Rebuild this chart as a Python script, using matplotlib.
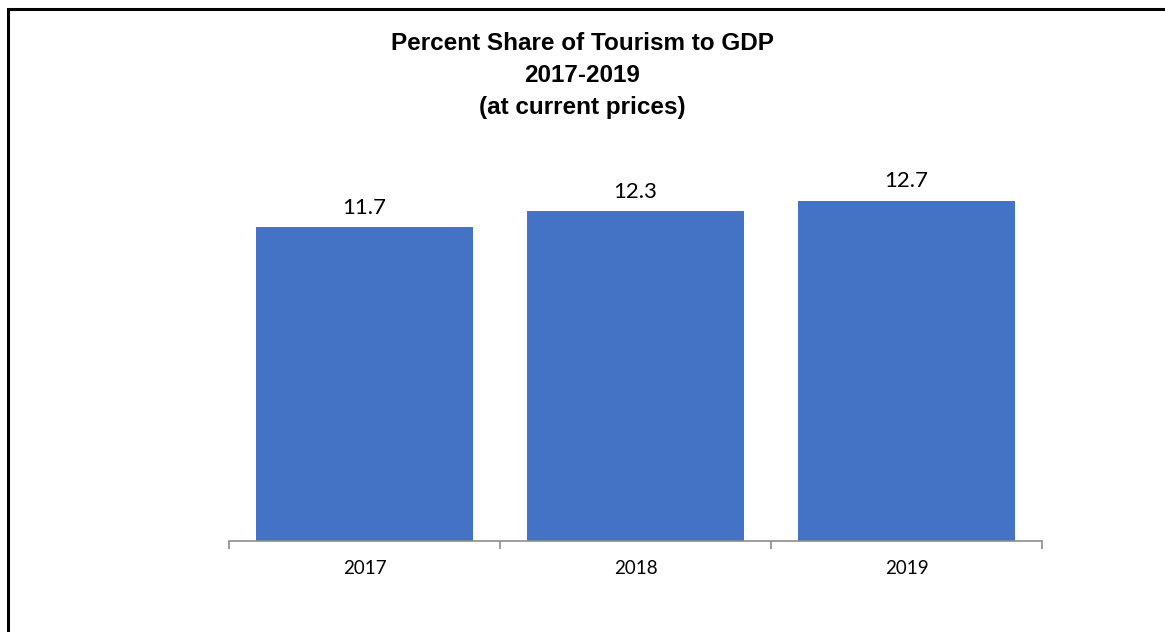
import matplotlib.pyplot as plt
from matplotlib.patches import Rectangle

years = ["2017", "2018", "2019"]
shares = [11.7, 12.3, 12.7]

fig = plt.figure(figsize=(11.65, 6.32), dpi=100)
ax = fig.add_axes([0.1966, 0.144, 0.6978, 0.5959])

x = list(range(len(years)))
bars = ax.bar(x, shares, width=0.8, color="#4472C4")
for b, v in zip(bars, shares):
    ax.annotate(f"{v}", (b.get_x() + b.get_width() / 2, v),
                xytext=(0, 7), textcoords="offset points",
                ha="center", va="bottom", fontsize=16, family="Lato", color="#000000")

ax.set_xlim(-0.5, len(years) - 0.5)
ax.set_ylim(0, 14.05)
ax.set_xticks(x)
ax.set_xticklabels(years, fontsize=13.5, family="Lato")
ax.set_xticks([i - 0.5 for i in range(len(years) + 1)], minor=True)
ax.tick_params(axis="x", which="major", length=0, pad=14)
ax.tick_params(axis="x", which="minor", length=6, color="#8c8c8c", width=1.2)
ax.set_yticks([])
for s in ["top", "right", "left"]:
    ax.spines[s].set_visible(False)
ax.spines["bottom"].set_color("#8c8c8c")
ax.spines["bottom"].set_linewidth(1.2)

fig.text(0.5, 0.881, "Percent Share of Tourism to GDP\n2017-2019\n(at current prices)",
         ha="center", va="center", fontsize=17.5, fontweight="bold",
         family="Liberation Sans", linespacing=1.5)

# outer frame (right and bottom edges fall outside the image)
fig.patches.append(Rectangle((8 / 1165, -0.05), 1.2, 0.05 + (632 - 9) / 632,
                             transform=fig.transFigure, fill=False,
                             edgecolor="black", linewidth=2.2))

fig.savefig("out.png", dpi=100)
